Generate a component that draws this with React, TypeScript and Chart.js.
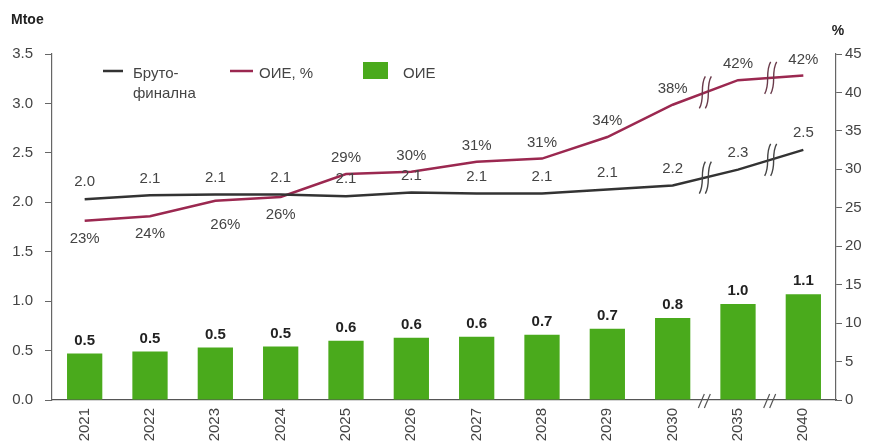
import React, { useEffect, useRef } from "react";
import { Chart, registerables } from "chart.js";

Chart.register(...registerables);

// ---- data ----
const years = ["2021", "2022", "2023", "2024", "2025", "2026", "2027", "2028", "2029", "2030", "2035", "2040"];
const resMtoe = [0.47, 0.49, 0.53, 0.54, 0.6, 0.63, 0.64, 0.66, 0.72, 0.83, 0.97, 1.07];
const grossFinalMtoe = [2.03, 2.07, 2.08, 2.08, 2.06, 2.1, 2.09, 2.09, 2.13, 2.17, 2.33, 2.53];
const resSharePct = [23.3, 23.9, 25.9, 26.4, 29.4, 29.7, 31.0, 31.4, 34.2, 38.4, 41.6, 42.2];
const leftAxisMax = 3.5;
const rightAxisMax = 45;
const breakAfterIndex = [9, 10];

const legendGross = ["Бруто-", "финална"];
const legendShare = "ОИЕ, %";
const legendRes = "ОИЕ";
const leftTitle = "Mtoe";
const rightTitle = "%";

const GREEN = "rgb(74,170,28)";
const MAROON = "rgb(155,40,80)";
const DARK = "#333333";
const TEXT = "#444444";
const FONT = "'Liberation Sans', Arial, sans-serif";

const overlayPlugin = {
  id: "overlay",
  afterDatasetsDraw(chart: any) {
    const ctx = chart.ctx as CanvasRenderingContext2D;
    const x = chart.scales.x;
    const y = chart.scales.y;
    const y2 = chart.scales.y2;
    ctx.save();

    // break marks on lines
    const drawCurveMark = (mx: number, my: number, color: string) => {
      ctx.strokeStyle = color;
      ctx.lineWidth = 1.4;
      for (const dx of [-3, 3]) {
        ctx.beginPath();
        ctx.moveTo(mx + dx + 3, my - 16);
        ctx.bezierCurveTo(mx + dx - 3, my - 6, mx + dx + 3, my + 6, mx + dx - 3, my + 16);
        ctx.stroke();
      }
    };
    for (const i of breakAfterIndex) {
      const mx = (x.getPixelForValue(i) + x.getPixelForValue(i + 1)) / 2;
      const gy = (y.getPixelForValue(grossFinalMtoe[i]) + y.getPixelForValue(grossFinalMtoe[i + 1])) / 2;
      const ry = (y2.getPixelForValue(resSharePct[i]) + y2.getPixelForValue(resSharePct[i + 1])) / 2;
      drawCurveMark(mx, gy, "#444");
      drawCurveMark(mx, ry, "#6a3a4a");
      // axis break
      ctx.strokeStyle = "#555";
      ctx.lineWidth = 1.2;
      const by = y.getPixelForValue(0);
      for (const dx of [-3, 3]) {
        ctx.beginPath();
        ctx.moveTo(mx + dx - 4, by + 8);
        ctx.lineTo(mx + dx + 2, by - 6);
        ctx.stroke();
      }
    }

    // data labels
    ctx.textAlign = "center";
    ctx.textBaseline = "middle";
    ctx.fillStyle = "#222";
    ctx.font = `bold 15px ${FONT}`;
    resMtoe.forEach((v, i) => {
      ctx.fillText(v.toFixed(1), x.getPixelForValue(i), y.getPixelForValue(v) - 13);
    });
    ctx.font = `15px ${FONT}`;
    ctx.fillStyle = TEXT;
    grossFinalMtoe.forEach((v, i) => {
      ctx.fillText(v.toFixed(1), x.getPixelForValue(i), y.getPixelForValue(v) - 17);
    });
    resSharePct.forEach((v, i) => {
      let dx = 0;
      let dy = i < 4 ? 18 : -16;
      if (i === 2) {
        dx = 10;
        dy = 24;
      }
      ctx.fillText(`${Math.round(v)}%`, x.getPixelForValue(i) + dx, y2.getPixelForValue(v) + dy);
    });

    // legend
    ctx.lineWidth = 2.5;
    ctx.strokeStyle = DARK;
    ctx.beginPath();
    ctx.moveTo(103, 71);
    ctx.lineTo(123, 71);
    ctx.stroke();
    ctx.strokeStyle = MAROON;
    ctx.beginPath();
    ctx.moveTo(230, 71);
    ctx.lineTo(253, 71);
    ctx.stroke();
    ctx.fillStyle = GREEN;
    ctx.fillRect(363, 62, 25, 17);
    ctx.fillStyle = TEXT;
    ctx.font = `15px ${FONT}`;
    ctx.textAlign = "left";
    ctx.fillText(legendGross[0], 133, 74);
    ctx.fillText(legendGross[1], 133, 94);
    ctx.fillText(legendShare, 259, 74);
    ctx.fillText(legendRes, 403, 74);

    // axis titles
    ctx.fillStyle = "#222";
    ctx.font = `bold 14px ${FONT}`;
    ctx.fillText(leftTitle, 11, 20);
    ctx.textAlign = "center";
    ctx.fillText(rightTitle, 838, 31);

    ctx.restore();
  },
};

export default function App() {
  const ref = useRef<HTMLCanvasElement | null>(null);

  useEffect(() => {
    document.body.style.margin = "0";
    const canvas = ref.current;
    if (!canvas) return;
    const chart = new Chart(canvas, {
      type: "bar",
      data: {
        labels: years,
        datasets: [
          {
            type: "line",
            label: "Бруто-финална",
            data: grossFinalMtoe,
            borderColor: DARK,
            borderWidth: 2.5,
            pointRadius: 0,
            tension: 0,
            yAxisID: "y",
            order: 1,
          },
          {
            type: "line",
            label: legendShare,
            data: resSharePct,
            borderColor: MAROON,
            borderWidth: 2.5,
            pointRadius: 0,
            tension: 0,
            yAxisID: "y2",
            order: 1,
          },
          {
            type: "bar",
            label: legendRes,
            data: resMtoe,
            backgroundColor: GREEN,
            borderWidth: 0,
            categoryPercentage: 1,
            barPercentage: 0.54,
            yAxisID: "y",
            order: 2,
          },
        ] as any,
      },
      options: {
        responsive: false,
        animation: false,
        devicePixelRatio: 1,
        layout: { padding: { top: 54, left: 0, right: 0, bottom: 0 } },
        plugins: { legend: { display: false }, tooltip: { enabled: false } },
        scales: {
          x: {
            type: "category",
            offset: true,
            grid: { display: false, drawTicks: false },
            border: { display: true, color: "#555", width: 1.2 },
            ticks: {
              color: TEXT,
              font: { family: FONT, size: 15 },
              minRotation: 90,
              maxRotation: 90,
              padding: 8,
              autoSkip: false,
            },
            afterFit: (s: any) => {
              s.height = 43;
            },
          },
          y: {
            position: "left",
            min: 0,
            max: leftAxisMax,
            grid: { drawOnChartArea: false, tickLength: 7, color: "#666" },
            border: { display: true, color: "#666", width: 1.2 },
            ticks: {
              stepSize: 0.5,
              color: TEXT,
              font: { family: FONT, size: 15 },
              padding: 12,
              callback: (v: any) => Number(v).toFixed(1),
            },
            afterFit: (s: any) => {
              s.width = 52;
            },
          },
          y2: {
            position: "right",
            min: 0,
            max: rightAxisMax,
            grid: { drawOnChartArea: false, tickLength: 6, color: "#666" },
            border: { display: true, color: "#666", width: 1.2 },
            ticks: {
              stepSize: 5,
              color: TEXT,
              font: { family: FONT, size: 15 },
              padding: 3,
            },
            afterFit: (s: any) => {
              s.width = 34;
            },
          },
        },
      } as any,
      plugins: [overlayPlugin],
    });
    return () => chart.destroy();
  }, []);

  return (
    <div style={{ width: 870, height: 443, background: "#fff" }}>
      <canvas ref={ref} width={870} height={443} style={{ display: "block" }} />
    </div>
  );
}
